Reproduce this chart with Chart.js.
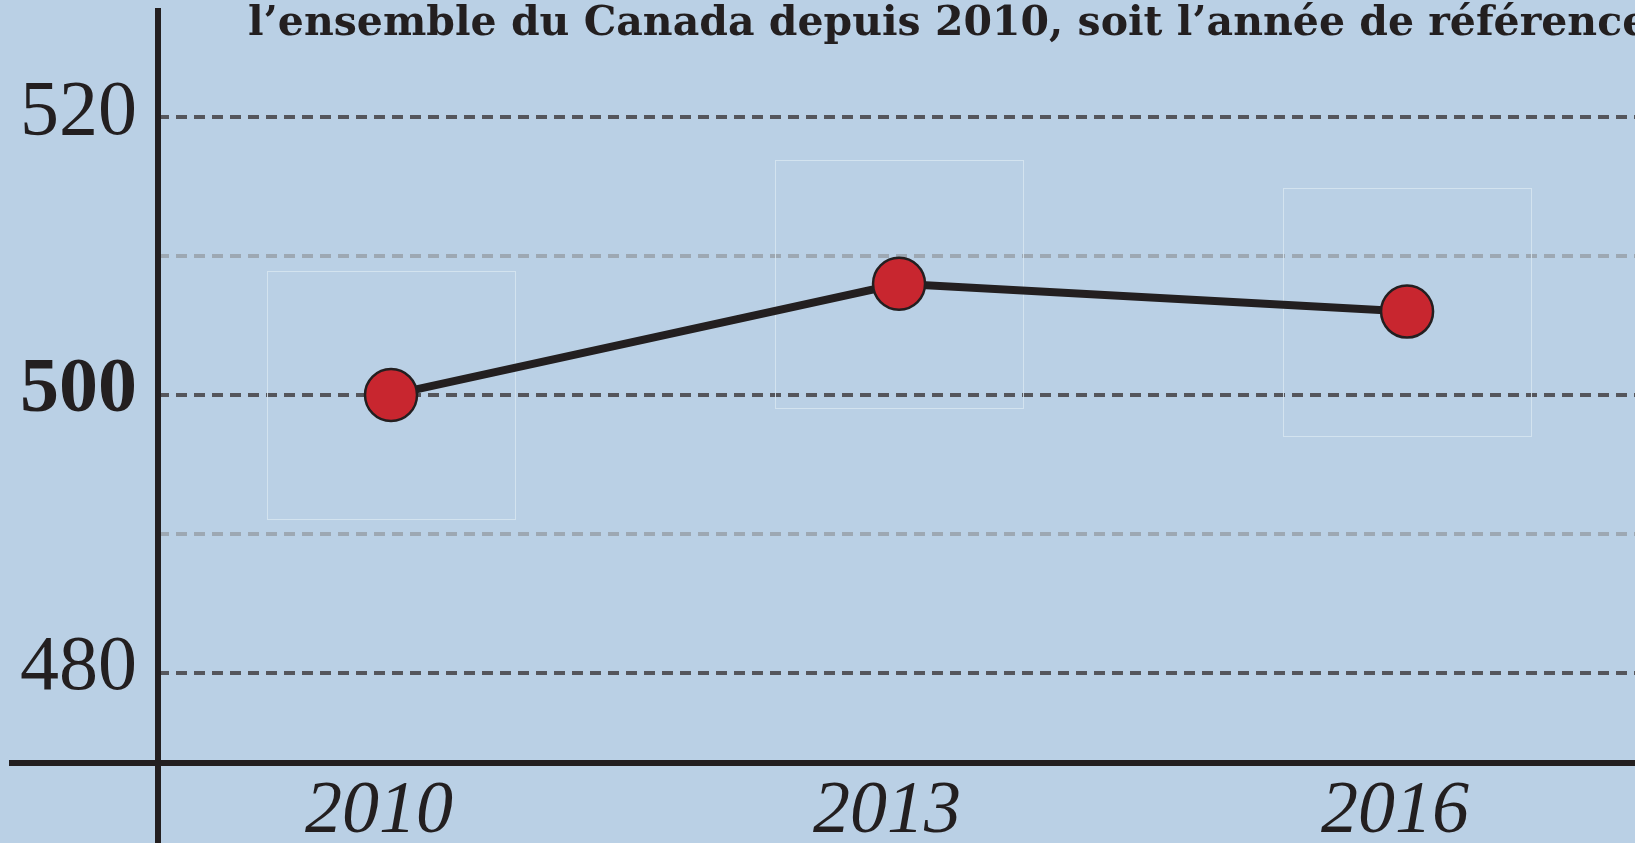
<!DOCTYPE html>
<html>
<head>
<meta charset="utf-8">
<script src="https://cdn.jsdelivr.net/npm/chart.js@4"></script>
<style>
  html, body { margin: 0; padding: 0; background: #bad0e5; }
  #wrap { width: 1635px; height: 843px; position: relative; }
</style>
</head>
<body>
<div id="wrap"><canvas id="chart"></canvas></div>
<script>
const years = [2010, 2013, 2016];
const scores = [500, 508, 506];
const yTicks = [480, 490, 500, 510, 520];
const titleText = "l’ensemble du Canada depuis 2010, soit l’année de référence";

const SERIF = "'Liberation Serif', 'DejaVu Serif', serif";
const INK = "#231f20";

// background + title + axis cross, drawn around the chart
const decorations = {
  id: "decorations",
  beforeDraw(chart) {
    const { ctx } = chart;
    ctx.save();
    ctx.fillStyle = "#bad0e5";
    ctx.fillRect(0, 0, chart.width, chart.height);
    ctx.restore();
  },
  beforeDatasetsDraw(chart) {
    // faint square outlines around each marker
    const { ctx } = chart;
    const meta = chart.getDatasetMeta(0);
    ctx.save();
    ctx.strokeStyle = "rgba(214, 228, 240, 0.9)";
    ctx.lineWidth = 1;
    meta.data.forEach((pt) => {
      ctx.strokeRect(Math.round(pt.x) - 124 + 0.5, Math.round(pt.y) - 124 + 0.5, 248, 248);
    });
    ctx.restore();
  },
  afterDraw(chart) {
    const { ctx, chartArea } = chart;
    ctx.save();
    ctx.strokeStyle = INK;
    ctx.lineWidth = 6;
    ctx.beginPath();
    ctx.moveTo(chartArea.left, chartArea.top);
    ctx.lineTo(chartArea.left, chart.height);
    ctx.moveTo(9, chartArea.bottom);
    ctx.lineTo(chart.width, chartArea.bottom);
    ctx.stroke();

    ctx.fillStyle = INK;
    ctx.font = "bold 41px 'DejaVu Serif', serif";
    ctx.textAlign = "left";
    ctx.textBaseline = "alphabetic";
    ctx.fillText(titleText, 248, 35);
    ctx.restore();
  },
};

new Chart(document.getElementById("chart"), {
  type: "line",
  data: {
    datasets: [
      {
        data: years.map((year, i) => ({ x: year, y: scores[i] })),
        borderColor: INK,
        borderWidth: 8,
        pointRadius: 26,
        pointHoverRadius: 26,
        pointBackgroundColor: "#c8262f",
        pointBorderColor: INK,
        pointBorderWidth: 2.5,
        tension: 0,
        clip: false,
      },
    ],
  },
  options: {
    responsive: true,
    maintainAspectRatio: false,
    animation: false,
    layout: { autoPadding: false, padding: { top: 8, left: 0, right: 0, bottom: 0 } },
    plugins: {
      legend: { display: false },
      tooltip: { enabled: false },
    },
    scales: {
      x: {
        type: "linear",
        min: 2008.624,
        max: 2017.346,
        afterBuildTicks(scale) {
          scale.ticks = years.map((value) => ({ value }));
        },
        afterFit(scale) {
          scale.height = 80;
          scale.paddingLeft = 0;
          scale.paddingRight = 0;
        },
        grid: { display: false, drawTicks: false },
        border: { display: false },
        ticks: {
          padding: 13,
          labelOffset: -12,
          maxRotation: 0,
          color: INK,
          font: { family: SERIF, size: 74, style: "italic", lineHeight: 1 },
          callback: (value) => String(value),
        },
      },
      y: {
        min: 473.5,
        max: 527.86,
        afterBuildTicks(scale) {
          scale.ticks = yTicks.map((value) => ({ value }));
        },
        afterFit(scale) {
          scale.width = 158;
          scale.paddingTop = 0;
          scale.paddingBottom = 0;
        },
        grid: {
          drawTicks: false,
          lineWidth: 4,
          color: (ctx) => (ctx.tick && ctx.tick.value % 20 === 0 ? "#55565c" : "#9da8b3"),
        },
        border: { display: false, dash: [11, 7] },
        ticks: {
          padding: 21,
          labelOffset: -4,
          color: INK,
          font: (ctx) => ({
            family: SERIF,
            size: 78,
            weight: ctx.tick && ctx.tick.value === 500 ? "bold" : "normal",
          }),
          callback: (value) => (value % 20 === 0 ? String(value) : ""),
        },
      },
    },
  },
  plugins: [decorations],
});
</script>
</body>
</html>
